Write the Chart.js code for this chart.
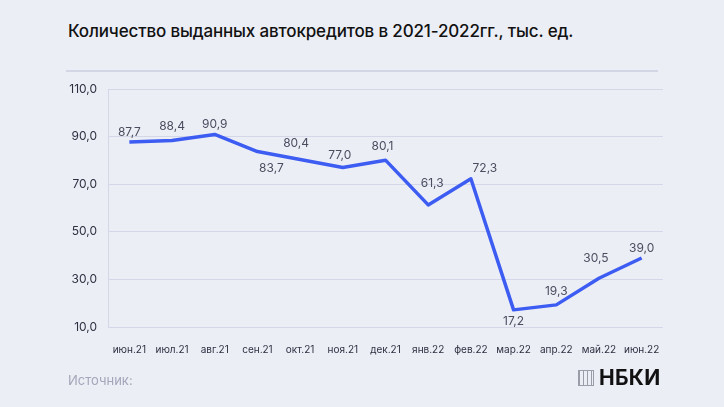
<!DOCTYPE html>
<html lang="ru">
<head>
<meta charset="utf-8">
<script src="https://cdn.jsdelivr.net/npm/chart.js@4"></script>
<style>
  html, body { margin: 0; padding: 0; }
  body {
    width: 724px; height: 407px; overflow: hidden; position: relative;
    background: #eceef6; font-family: Inter, "Noto Sans", sans-serif;
  }
  #title {
    position: absolute; left: 68px; top: 21px;
    font-size: 17px; font-weight: 500; color: #111; letter-spacing: -0.15px;
  }
  #sep {
    position: absolute; left: 66px; top: 70px; width: 592px; height: 2px;
    background: #d3d6e4;
  }
  #source {
    position: absolute; left: 68px; top: 372px;
    font-size: 13px; color: #a3a6b8;
  }
  #logo {
    position: absolute; left: 578px; top: 365px;
    display: flex; align-items: center;
  }
  #logo .icon {
    width: 14px; height: 14px; border: 1px solid #9a9da8; margin-right: 5px;
    background: repeating-linear-gradient(90deg, #9a9da8 0 1px, transparent 1px 4px);
  }
  #logo .txt { font-size: 21px; font-weight: 700; color: #111; letter-spacing: 0.3px; }
  #wrap { position: absolute; left: 0; top: 0; width: 724px; height: 407px; }
</style>
</head>
<body>
<div id="title">Количество выданных автокредитов в 2021-2022гг., тыс. ед.</div>
<div id="sep"></div>
<div id="wrap"><canvas id="autoLoansChart"></canvas></div>
<div id="source">Источник:</div>
<div id="logo"><div class="icon"></div><div class="txt">НБКИ</div></div>
<script>
// Months and issued car loans, thousands
const months = ["июн.21", "июл.21", "авг.21", "сен.21", "окт.21", "ноя.21", "дек.21",
                "янв.22", "фев.22", "мар.22", "апр.22", "май.22", "июн.22"];
const loans = [87.7, 88.4, 90.9, 83.7, 80.4, 77.0, 80.1, 61.3, 72.3, 17.2, 19.3, 30.5, 39.0];
const yTicks = [10, 30, 50, 70, 90, 110];

// label placement relative to the point (px)
const labelDx = [0, 0, 0, 14, -4, -3, -3, 4, 14, 0, 0, -3, 0];
const labelDy = [-10, -14, -10, 17, -16, -12, -14, -22, -10, 12, -13, -20, -10];

const fmt = (v) => v.toFixed(1).replace(".", ",");

const valueLabels = {
    id: "valueLabels",
    afterDatasetsDraw(chart) {
        const ctx = chart.ctx;
        const meta = chart.getDatasetMeta(0);
        ctx.save();
        ctx.font = "12px Inter, 'Noto Sans', sans-serif";
        ctx.fillStyle = "#4a4d5e";
        ctx.textAlign = "center";
        ctx.textBaseline = "middle";
        meta.data.forEach((pt, i) => {
            ctx.fillText(fmt(loans[i]), pt.x + labelDx[i], pt.y + labelDy[i]);
        });
        ctx.restore();
    },
};

const ctx = document.getElementById("autoLoansChart").getContext("2d");
const autoLoansChart = new Chart(ctx, {
    type: "line",
    data: {
        labels: months,
        datasets: [
            {
                label: "Автокредиты",
                data: loans,
                borderColor: "#3d5cf2",
                borderWidth: 3.5,
                pointRadius: 0,
                tension: 0,
                borderJoinStyle: "round",
            },
        ],
    },
    options: {
        responsive: true,
        maintainAspectRatio: false,
        animation: false,
        layout: { padding: { top: 89, right: 61, bottom: 0, left: 0 } },
        plugins: {
            legend: { display: false },
            tooltip: { enabled: false },
        },
        scales: {
            x: {
                offset: true,
                grid: { display: false },
                border: { display: false },
                ticks: {
                    color: "#2e3040",
                    font: { size: 10, family: "Inter" },
                    padding: 9,
                    maxRotation: 0,
                    autoSkip: false,
                },
                afterFit(scale) { scale.height = 80; },
            },
            y: {
                min: 10,
                max: 110,
                afterBuildTicks(scale) { scale.ticks = yTicks.map((v) => ({ value: v })); },
                grid: { color: "#d3d7e7", lineWidth: 1, drawTicks: false },
                border: { display: true, color: "#d3d7e7" },
                ticks: {
                    color: "#2e3040",
                    font: { size: 12, family: "Inter" },
                    padding: 11,
                    callback: (v) => fmt(v),
                },
                afterFit(scale) { scale.width = 108; },
            },
        },
    },
    plugins: [valueLabels],
});
</script>
</body>
</html>
